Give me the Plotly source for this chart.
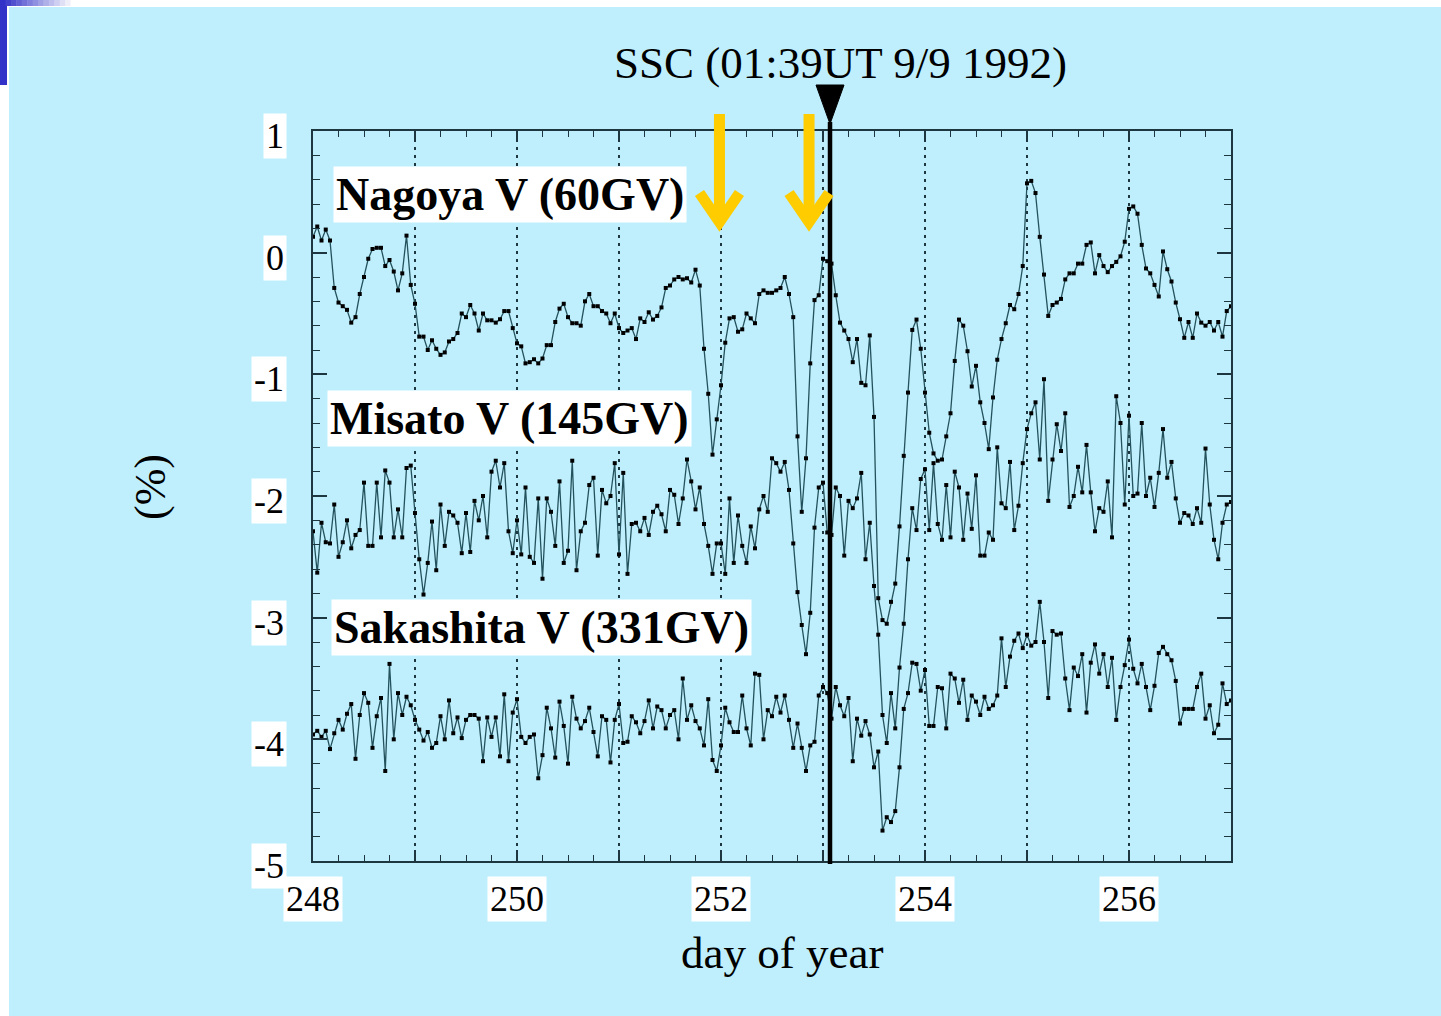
import numpy as np
import plotly.graph_objects as go

# ---------------- data (hourly values, day 248.0 .. 257.0) ----------------
nagoya = [
    0.13, 0.215, 0.10, 0.19, 0.10, -0.29, -0.41, -0.44, -0.47, -0.575, -0.53, -0.34, -0.20, -0.05, 0.03, 0.04, 0.04, -0.11, -0.06, -0.155, -0.31, -0.17, 0.14, -0.265,
    -0.42, -0.69, -0.69, -0.80, -0.72, -0.79, -0.84, -0.82, -0.73, -0.71, -0.66, -0.50, -0.53, -0.43, -0.50, -0.64, -0.50, -0.556, -0.556, -0.575, -0.547, -0.48, -0.48, -0.62,
    -0.745, -0.77, -0.91, -0.90, -0.876, -0.91, -0.87, -0.76, -0.76, -0.57, -0.46, -0.42, -0.53, -0.58, -0.58, -0.60, -0.40, -0.34, -0.44, -0.44, -0.48, -0.50, -0.58, -0.50,
    -0.62, -0.66, -0.64, -0.62, -0.71, -0.54, -0.57, -0.49, -0.55, -0.52, -0.45, -0.29, -0.27, -0.22, -0.20, -0.22, -0.21, -0.245, -0.14, -0.27, -0.79, -1.16, -1.66, -1.37,
    -1.09, -0.74, -0.54, -0.53, -0.65, -0.63, -0.50, -0.54, -0.58, -0.34, -0.31, -0.33, -0.33, -0.31, -0.29, -0.20, -0.34, -0.53, -1.51, -2.13, -1.69, -0.91, -0.39, -0.35,
    -0.05, -0.07, -0.09, -0.35, -0.575, -0.64, -0.71, -0.90, -0.71, -1.07, -1.09, -0.68, -1.35, -2.84, -3.02, -3.05, -2.87, -2.72, -2.25, -1.67, -1.15, -0.635, -0.55, -0.79,
    -1.15, -1.48, -1.65, -1.71, -1.70, -1.51, -1.32, -0.89, -0.55, -0.60, -0.81, -1.10, -0.93, -1.23, -1.40, -1.615, -1.19, -0.88, -0.71, -0.58, -0.43, -0.465, -0.34, -0.11,
    0.57, 0.59, 0.49, 0.13, -0.18, -0.52, -0.43, -0.41, -0.38, -0.22, -0.17, -0.17, -0.09, -0.09, 0.064, 0.084, -0.17, -0.02, -0.11, -0.16, -0.11, -0.076, -0.03, 0.09,
    0.36, 0.38, 0.32, 0.064, -0.13, -0.17, -0.265, -0.36, 0.01, -0.136, -0.237, -0.41, -0.547, -0.70, -0.57, -0.70, -0.50, -0.575, -0.60, -0.57, -0.64, -0.57, -0.69, -0.48, -0.44,
]

misato = [
    -2.29, -2.63, -2.22, -2.38, -2.39, -2.07, -2.50, -2.38, -2.20, -2.43, -2.32, -2.28, -1.89, -2.41, -2.41, -1.89, -2.34, -1.79, -1.89, -2.34, -2.11, -2.34, -1.77, -1.75,
    -2.14, -2.52, -2.81, -2.55, -2.21, -2.61, -2.07, -2.41, -2.13, -2.16, -2.22, -2.47, -2.14, -2.46, -2.04, -2.20, -2.00, -2.34, -1.80, -1.71, -1.93, -1.73, -2.29, -2.47,
    -2.20, -2.48, -1.93, -2.50, -2.55, -2.02, -2.68, -2.02, -2.13, -2.41, -1.88, -2.55, -2.45, -1.71, -2.61, -2.29, -2.22, -1.91, -1.85, -2.49, -1.95, -2.06, -2.00, -1.73,
    -2.48, -1.81, -2.64, -2.23, -2.22, -2.29, -2.18, -2.32, -2.13, -2.08, -2.15, -2.29, -1.95, -1.99, -2.23, -2.02, -1.70, -1.88, -2.11, -1.93, -2.23, -2.41, -2.64, -2.39,
    -2.39, -2.64, -2.02, -2.55, -2.16, -2.41, -2.55, -2.25, -2.43, -2.11, -2.00, -2.13, -1.69, -1.73, -1.80, -1.72, -1.95, -2.39, -2.79, -3.06, -3.30, -2.96, -2.26, -1.93,
    -1.89, -2.30, -2.32, -1.93, -2.00, -2.49, -2.04, -2.10, -2.02, -1.81, -2.52, -2.22, -2.74, -3.14, -3.80, -4.03, -3.62, -3.91, -3.41, -3.05, -2.52, -2.10, -2.28, -1.86,
    -1.78, -2.28, -1.73, -2.23, -2.36, -1.91, -2.34, -1.80, -1.93, -2.36, -1.98, -2.27, -1.83, -2.49, -2.49, -2.30, -2.36, -1.60, -2.06, -2.10, -1.72, -2.28, -2.08, -1.73,
    -1.45, -1.32, -1.23, -1.70, -1.04, -2.04, -1.70, -1.41, -1.63, -1.32, -2.09, -2.00, -1.76, -1.97, -1.58, -1.97, -2.29, -2.10, -2.13, -1.88, -2.34, -1.18, -1.40, -2.07,
    -1.34, -2.00, -1.98, -1.40, -2.00, -1.85, -2.09, -1.81, -1.45, -1.85, -1.72, -2.02, -2.22, -2.14, -2.16, -2.23, -2.10, -2.22, -1.61, -2.07, -2.36, -2.52, -2.22, -2.07, -2.05,
]

sakashita = [
    -3.96, -3.93, -3.98, -3.93, -4.08, -3.95, -3.84, -3.92, -3.79, -3.71, -4.16, -3.80, -3.62, -3.70, -4.07, -3.81, -3.66, -4.26, -3.38, -4.00, -3.62, -3.80, -3.65, -3.72,
    -3.84, -3.92, -4.01, -3.94, -4.07, -4.03, -3.81, -4.00, -3.68, -3.95, -3.82, -3.99, -3.84, -3.80, -3.80, -3.83, -4.18, -3.82, -3.98, -3.82, -4.14, -3.63, -4.18, -3.78,
    -3.67, -3.98, -4.03, -3.98, -3.96, -4.32, -4.13, -3.74, -3.91, -4.15, -3.69, -3.89, -4.20, -3.65, -3.83, -3.91, -3.85, -3.74, -3.94, -4.14, -3.81, -3.84, -4.19, -3.84,
    -3.71, -4.03, -4.02, -3.81, -3.86, -3.95, -3.85, -3.68, -3.91, -3.73, -3.76, -3.91, -3.80, -3.76, -4.00, -3.50, -3.84, -3.72, -3.85, -3.91, -4.05, -3.67, -4.17, -4.26,
    -4.05, -3.74, -3.86, -3.94, -3.94, -3.64, -3.91, -4.05, -3.46, -3.47, -4.00, -3.76, -3.81, -3.65, -3.78, -3.64, -3.84, -4.07, -3.87, -4.07, -4.26, -4.05, -4.02, -3.64,
    -3.57, -3.62, -3.83, -3.57, -3.72, -3.81, -3.66, -4.18, -3.83, -3.97, -3.85, -3.96, -4.23, -4.10, -4.75, -4.64, -4.68, -4.59, -4.23, -3.75, -3.62, -3.37, -3.38, -3.60,
    -3.43, -3.89, -3.89, -3.57, -3.58, -3.91, -3.46, -3.50, -3.70, -3.51, -3.84, -3.64, -3.69, -3.80, -3.65, -3.75, -3.72, -3.64, -3.17, -3.57, -3.32, -3.19, -3.13, -3.25,
    -3.14, -3.23, -3.20, -2.87, -3.20, -3.66, -3.11, -3.14, -3.13, -3.50, -3.76, -3.41, -3.48, -3.30, -3.78, -3.37, -3.22, -3.46, -3.30, -3.57, -3.33, -3.84, -3.57, -3.39,
    -3.18, -3.42, -3.54, -3.38, -3.57, -3.76, -3.56, -3.29, -3.24, -3.30, -3.35, -3.52, -3.87, -3.75, -3.75, -3.75, -3.57, -3.46, -3.83, -3.72, -3.95, -3.88, -3.54, -3.71, -3.68,
]

series_names = ["Nagoya V (60GV)", "Misato V (145GV)", "Sakashita V (331GV)"]
x_tick_vals = [248, 250, 252, 254, 256]
y_tick_vals = [1, 0, -1, -2, -3, -4, -5]
start_day = 248
ssc_day = 253 + (1 + 39 / 60) / 24      # 01:39 UT on 9/9 (day 253)
arrow_days = [251.985, 252.863]

# ---------------- geometry / style ----------------
W, H = 1441, 1016
ML, MR, MT, MB = 313, 210, 131, 155
PW, PH = W - ML - MR, H - MT - MB
XR = [248, 257]
PPD = PW / (XR[1] - XR[0])   # pixels per day

def pxx(p):  # pixel x -> paper x
    return (p - ML) / PW

def pyy(p):  # pixel y -> paper y
    return (H - MB - p) / PH

BG = "#BFEFFD"
LINE = "#24525c"
AX = "#1d3640"
GOLD = "#FFCC00"
SERIF = "Liberation Serif, Times New Roman, serif"

fig = go.Figure()
for vals in (nagoya, misato, sakashita):
    hrs = np.arange(len(vals))
    fig.add_trace(go.Scatter(
        x=start_day + hrs / 24.0, y=vals, mode="lines+markers",
        line=dict(color=LINE, width=1.3),
        marker=dict(symbol="square", size=4, color="black"),
        showlegend=False, hoverinfo="skip"))

shapes = []
# page border / slide decoration
shapes.append(dict(type="rect", xref="paper", yref="paper", layer="below",
                   x0=pxx(0), x1=pxx(9), y0=pyy(H), y1=pyy(0), fillcolor="white", line_width=0))
shapes.append(dict(type="rect", xref="paper", yref="paper", layer="below",
                   x0=pxx(0), x1=pxx(W), y0=pyy(7), y1=pyy(0), fillcolor="white", line_width=0))
shapes.append(dict(type="rect", xref="paper", yref="paper", layer="below",
                   x0=pxx(0), x1=pxx(7), y0=pyy(85), y1=pyy(0), fillcolor="#3232C8", line_width=0))
nseg = 14
for i in range(nseg):
    t = i / (nseg - 1)
    r = int(50 + (255 - 50) * t); g = int(50 + (255 - 50) * t); b = int(200 + (255 - 200) * t)
    shapes.append(dict(type="rect", xref="paper", yref="paper", layer="below",
                       x0=pxx(i * 76 / nseg), x1=pxx((i + 1) * 76 / nseg + 0.5),
                       y0=pyy(6), y1=pyy(0), fillcolor=f"rgb({r},{g},{b})", line_width=0))

# SSC line and triangle
shapes.append(dict(type="line", xref="x", yref="paper", x0=ssc_day, x1=ssc_day,
                   y0=pyy(864), y1=pyy(122), line=dict(color="black", width=4.5), layer="above"))
half = 14 / PPD
shapes.append(dict(type="path", xref="x", yref="paper", layer="above",
                   path=f"M {ssc_day-half},{pyy(85)} L {ssc_day+half},{pyy(85)} L {ssc_day},{pyy(124)} Z",
                   fillcolor="black", line=dict(color="black", width=1)))
# gold arrows
for d in arrow_days:
    shapes.append(dict(type="line", xref="x", yref="paper", x0=d, x1=d,
                       y0=pyy(114), y1=pyy(220), line=dict(color=GOLD, width=11), layer="above"))
    aw = 20 / PPD
    shapes.append(dict(type="path", xref="x", yref="paper", layer="above",
                       path=f"M {d-aw},{pyy(193)} L {d},{pyy(222)} L {d+aw},{pyy(193)}",
                       line=dict(color=GOLD, width=11)))

annotations = []
for v in x_tick_vals:
    annotations.append(dict(x=v, y=pyy(899), xref="x", yref="paper", text=str(v),
                            showarrow=False, bgcolor="white", borderpad=2,
                            font=dict(family=SERIF, size=36, color="black"),
                            xanchor="center", yanchor="middle"))
for v in y_tick_vals:
    annotations.append(dict(x=pxx(287), y=v, xref="paper", yref="y", text=str(v),
                            showarrow=False, bgcolor="white", borderpad=2, yshift=-5,
                            font=dict(family=SERIF, size=36, color="black"),
                            xanchor="right", yanchor="middle"))
label_pos = [(333, 194), (327, 418), (331, 627)]
for name, (lx, ly) in zip(series_names, label_pos):
    annotations.append(dict(x=pxx(lx), y=pyy(ly), xref="paper", yref="paper",
                            text=f"<b>{name}</b>", showarrow=False, bgcolor="white", borderpad=2,
                            font=dict(family=SERIF, size=46, color="black"),
                            xanchor="left", yanchor="middle"))
annotations.append(dict(x=pxx(840), y=pyy(63), xref="paper", yref="paper",
                        text="SSC (01:39UT 9/9 1992)", showarrow=False,
                        font=dict(family=SERIF, size=45, color="black"),
                        xanchor="center", yanchor="middle"))
annotations.append(dict(x=pxx(782), y=pyy(953), xref="paper", yref="paper",
                        text="day of year", showarrow=False,
                        font=dict(family=SERIF, size=45, color="black"),
                        xanchor="center", yanchor="middle"))
annotations.append(dict(x=pxx(150), y=pyy(487), xref="paper", yref="paper",
                        text="(%)", showarrow=False, textangle=-90,
                        font=dict(family=SERIF, size=44, color="black"),
                        xanchor="center", yanchor="middle"))

fig.update_layout(
    width=W, height=H, margin=dict(l=ML, r=MR, t=MT, b=MB, pad=0),
    paper_bgcolor=BG, plot_bgcolor=BG, showlegend=False, hovermode=False,
    shapes=shapes, annotations=annotations,
    xaxis=dict(range=XR, tick0=248, dtick=1, showticklabels=False,
               ticks="inside", ticklen=11, tickwidth=1.5, tickcolor=AX,
               showline=True, linecolor=AX, linewidth=1.8, mirror="ticks",
               showgrid=True, gridcolor=AX, gridwidth=1.5, griddash="3px,5px", zeroline=False,
               minor=dict(dtick=0.25, ticks="inside", ticklen=6, tickwidth=1.2, tickcolor=AX, showgrid=False)),
    yaxis=dict(range=[-5, 1], tick0=0, dtick=1, showticklabels=False,
               ticks="inside", ticklen=14, tickwidth=1.5, tickcolor=AX,
               showline=True, linecolor=AX, linewidth=1.8, mirror="ticks",
               showgrid=False, zeroline=False,
               minor=dict(dtick=0.2, ticks="inside", ticklen=7, tickwidth=1.2, tickcolor=AX, showgrid=False)),
)

fig.write_html("out.html", config={"displayModeBar": False},
               post_script="document.body.style.margin='0';document.body.style.overflow='hidden';")
